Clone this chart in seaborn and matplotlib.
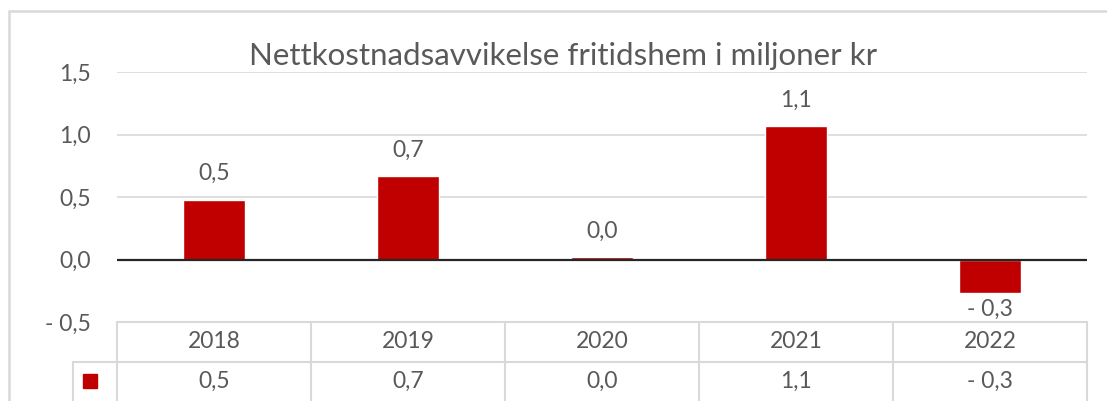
import pandas as pd
import matplotlib.pyplot as plt
import seaborn as sns
from matplotlib.lines import Line2D
from matplotlib.patches import Rectangle

# Data (millions kr)
years = ['2018', '2019', '2020', '2021', '2022']
values = [0.48, 0.67, 0.02, 1.07, -0.27]
y_ticks = [-0.5, 0.0, 0.5, 1.0, 1.5]
title = 'Nettkostnadsavvikelse fritidshem i miljoner kr'

df = pd.DataFrame({'year': years, 'value': values})

bar_color = '#C00000'
text_color = '#595959'
grid_color = '#D9D9D9'
fs = 16.5


def fmt(v):
    s = f'{abs(v):.1f}'.replace('.', ',')
    return '- ' + s if round(v, 1) < 0 else s


sns.set_style('white')
plt.rcParams['font.family'] = ['Lato', 'DejaVu Sans']

W, H = 1107, 401
fig = plt.figure(figsize=(W / 100, H / 100), dpi=100)

# pixel layout helpers
x0, x1 = 117, 1087
y_top, y_bot = 72, 322


def fx(px):
    return px / W


def fy(py):
    return 1 - py / H


# outer chart border
fig.add_artist(Rectangle((fx(9), fy(420)), fx(1120) - fx(9), fy(10.5) - fy(420),
                         transform=fig.transFigure, fill=False,
                         edgecolor='#D9D9D9', linewidth=1.8))

ax = fig.add_axes([fx(x0), fy(y_bot), fx(x1) - fx(x0), fy(y_top) - fy(y_bot)])
sns.barplot(data=df, x='year', y='value', color=bar_color, width=0.315,
            saturation=1, ax=ax)
ax.set_xlim(-0.5, len(years) - 0.5)
ax.set_ylim(-0.5, 1.5)
ax.set_yticks(y_ticks)
ax.set_yticklabels([fmt(t) for t in y_ticks], color=text_color, fontsize=fs)
ax.tick_params(axis='y', length=0, pad=19)
ax.set_xticks([])
ax.set_xlabel('')
ax.set_ylabel('')
for s in ax.spines.values():
    s.set_visible(False)
ax.set_axisbelow(True)
for t in y_ticks[2:]:
    ax.axhline(t, color=grid_color, linewidth=1.2, zorder=0)
ax.axhline(0, color='#262626', linewidth=1.6, zorder=3)

for i, v in enumerate(values):
    if v >= 0:
        ax.annotate(fmt(v), (i, v), xytext=(0, 11), textcoords='offset points',
                    ha='center', va='bottom', fontsize=fs, color=text_color)
    else:
        ax.annotate(fmt(v), (i, v), xytext=(0, -4), textcoords='offset points',
                    ha='center', va='top', fontsize=fs, color=text_color)

fig.text(fx(563), fy(56), title, ha='center', va='center', fontsize=22.5,
         color=text_color)

# data table below the plot
row1, row2, row3 = 322, 362, 420
colw = (x1 - x0) / len(years)
lines = [
    ((x0, x1), (row1, row1)),
    ((73, x1), (row2, row2)),
    ((73, 73), (row2, row3)),
]
for i in range(len(years) + 1):
    lines.append(((x0 + i * colw, x0 + i * colw), (row1, row3)))
for xs, ys in lines:
    fig.add_artist(Line2D([fx(p) for p in xs], [fy(p) for p in ys],
                          transform=fig.transFigure, color=grid_color,
                          linewidth=1.5))

for i, (yr, v) in enumerate(zip(years, values)):
    cx = x0 + (i + 0.5) * colw
    fig.text(fx(cx), fy(342), yr, ha='center', va='center', fontsize=fs,
             color=text_color)
    fig.text(fx(cx), fy(381), fmt(v), ha='center', va='center', fontsize=fs,
             color=text_color)

fig.add_artist(Rectangle((fx(83), fy(388)), fx(97) - fx(83), fy(374) - fy(388),
                         transform=fig.transFigure, color=bar_color))

fig.savefig('out.png', dpi=100)
